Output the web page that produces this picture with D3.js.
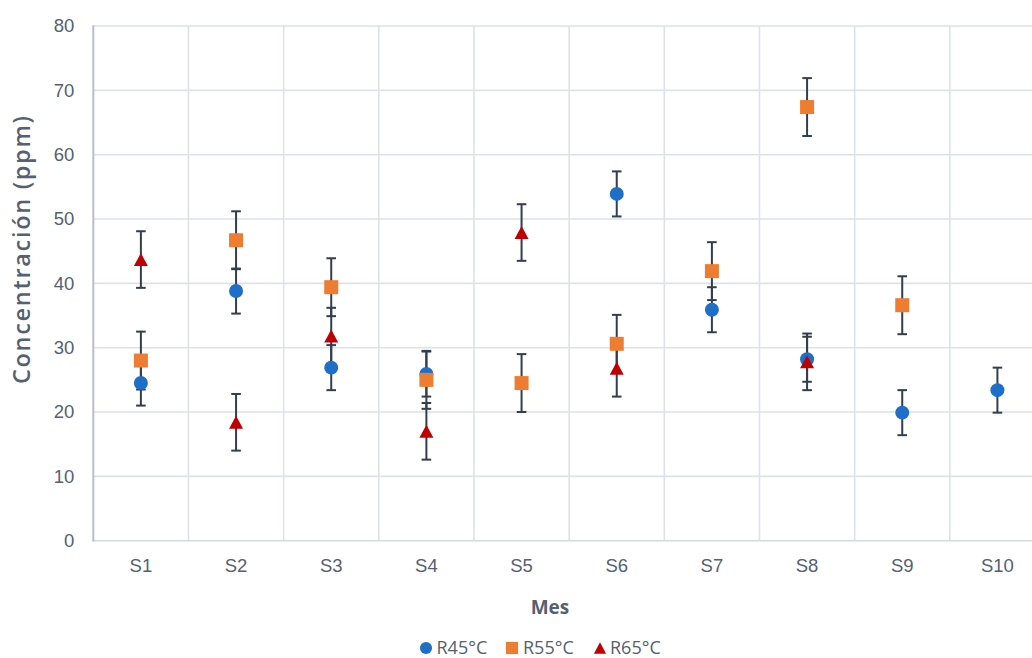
<!DOCTYPE html>
<html>
<head>
<meta charset="utf-8">
<script src="https://cdn.jsdelivr.net/npm/d3@7"></script>
<style>
  html, body { margin: 0; padding: 0; background: #ffffff; }
  svg { display: block; font-family: "Open Sans", "Noto Sans", sans-serif; }
</style>
</head>
<body>
<svg id="chart" width="1032" height="658"></svg>
<script>
// Sample labels (x axis)
const categories = ["S1", "S2", "S3", "S4", "S5", "S6", "S7", "S8", "S9", "S10"];

// Concentration means (ppm); null where no measurement exists
const r45 = [24.5, 38.8, 26.9, 25.9, null, 53.9, 35.9, 28.2, 19.9, 23.4];
const r55 = [28.0, 46.7, 39.4, 25.0, 24.5, 30.6, 41.9, 67.4, 36.6, null];
const r65 = [43.7, 18.4, 31.8, 17.0, 47.9, 26.8, null, 27.8, null, null];

// Error amounts (± ppm) for each point
const r45Err = [3.5, 3.5, 3.5, 3.5, 3.5, 3.5, 3.5, 3.5, 3.5, 3.5];
const r55Err = [4.5, 4.5, 4.5, 4.5, 4.5, 4.5, 4.5, 4.5, 4.5, 4.5];
const r65Err = [4.4, 4.4, 4.4, 4.4, 4.4, 4.4, 4.4, 4.4, 4.4, 4.4];

const seriesNames = ["R45°C", "R55°C", "R65°C"];
const yTicks = [0, 10, 20, 30, 40, 50, 60, 70, 80];

const series = [
  { name: seriesNames[0], values: r45, err: r45Err, shape: "circle",   color: "#1f6ec7" },
  { name: seriesNames[1], values: r55, err: r55Err, shape: "square",   color: "#ed7d31" },
  { name: seriesNames[2], values: r65, err: r65Err, shape: "triangle", color: "#c00000" }
];

const svg = d3.select("#chart");
const plot = { left: 93.3, top: 26, right: 1045, bottom: 540.7 };

const x = d3.scaleBand().domain(categories).range([plot.left, plot.right]).padding(0);
const y = d3.scaleLinear().domain([0, 80]).range([plot.bottom, plot.top]);

const textColor = "#556072";
const gridColor = "#dde2ea";

// Horizontal gridlines
svg.append("g")
  .selectAll("line")
  .data(yTicks.filter(t => t > 0))
  .join("line")
  .attr("x1", plot.left).attr("x2", plot.right)
  .attr("y1", d => y(d)).attr("y2", d => y(d))
  .attr("stroke", gridColor).attr("stroke-width", 1.6);

// Vertical gridlines at category boundaries
svg.append("g")
  .selectAll("line")
  .data(categories.slice(1))
  .join("line")
  .attr("x1", d => x(d)).attr("x2", d => x(d))
  .attr("y1", plot.top).attr("y2", plot.bottom)
  .attr("stroke", gridColor).attr("stroke-width", 1.6);

// Bottom axis line
svg.append("line")
  .attr("x1", plot.left).attr("x2", plot.right)
  .attr("y1", plot.bottom).attr("y2", plot.bottom)
  .attr("stroke", "#d3d9e3").attr("stroke-width", 1.6);

// Left axis line
svg.append("line")
  .attr("x1", plot.left).attr("x2", plot.left)
  .attr("y1", plot.top - 0.8).attr("y2", plot.bottom + 0.8)
  .attr("stroke", "#b5bfce").attr("stroke-width", 2);

// Y axis tick labels
const yAxis = d3.axisLeft(y).tickValues(yTicks).tickSize(0).tickPadding(19);
const yg = svg.append("g").attr("transform", `translate(${plot.left},0)`).call(yAxis);
yg.select(".domain").remove();
yg.selectAll("text")
  .attr("fill", textColor)
  .style("font-size", "18.5px");

// X axis tick labels
const xAxis = d3.axisBottom(x).tickSize(0).tickPadding(18);
const xg = svg.append("g").attr("transform", `translate(0,${plot.bottom})`).call(xAxis);
xg.select(".domain").remove();
xg.selectAll("text")
  .attr("fill", textColor)
  .style("font-size", "18.5px");

// Axis titles
svg.append("text")
  .attr("transform", "translate(21,250) rotate(-90)")
  .attr("text-anchor", "middle")
  .attr("dominant-baseline", "central")
  .attr("fill", textColor)
  .style("font-size", "23.5px")
  .style("font-weight", 600)
  .attr("textLength", 268)
  .attr("lengthAdjust", "spacing")
  .text("Concentración (ppm)");

svg.append("text")
  .attr("x", 550)
  .attr("y", 607)
  .attr("text-anchor", "middle")
  .attr("dominant-baseline", "central")
  .attr("fill", textColor)
  .style("font-size", "19px")
  .style("font-weight", 700)
  .text("Mes");

// Marker shape generator
function drawMarker(sel, shape, color, k) {
  if (shape === "circle") {
    sel.append("circle").attr("r", 7 * k).attr("fill", color);
  } else if (shape === "square") {
    sel.append("rect").attr("x", -7 * k).attr("y", -7 * k)
      .attr("width", 14 * k).attr("height", 14 * k).attr("fill", color);
  } else {
    sel.append("path")
      .attr("d", `M0,${-6.5 * k} L${7 * k},${6.5 * k} L${-7 * k},${6.5 * k} Z`)
      .attr("fill", color);
  }
}

const cx = d => x(d) + x.bandwidth() / 2;
const capHalf = 4.8;
const errColor = "#323d4e";

// Error bars (drawn beneath all markers)
const errG = svg.append("g");
series.forEach(s => {
  s.values.forEach((v, i) => {
    if (v == null) return;
    const px = cx(categories[i]);
    const hi = y(v + s.err[i]), lo = y(v - s.err[i]);
    errG.append("line").attr("x1", px).attr("x2", px).attr("y1", hi).attr("y2", lo)
      .attr("stroke", errColor).attr("stroke-width", 2);
    [hi, lo].forEach(yy => {
      errG.append("line").attr("x1", px - capHalf).attr("x2", px + capHalf)
        .attr("y1", yy).attr("y2", yy)
        .attr("stroke", errColor).attr("stroke-width", 2);
    });
  });
});

// Markers
series.forEach(s => {
  const g = svg.append("g");
  s.values.forEach((v, i) => {
    if (v == null) return;
    const m = g.append("g").attr("transform", `translate(${cx(categories[i])},${y(v)})`);
    drawMarker(m, s.shape, s.color, 1);
  });
});

// Legend
const legendY = 647;
const legendPos = [
  { mx: 426, tx: 436.5 },
  { mx: 512, tx: 523 },
  { mx: 600, tx: 610 }
];
series.forEach((s, i) => {
  const lg = svg.append("g");
  const m = lg.append("g").attr("transform", `translate(${legendPos[i].mx},${legendY + 1})`);
  drawMarker(m, s.shape, s.color, 0.87);
  lg.append("text")
    .attr("x", legendPos[i].tx)
    .attr("y", legendY)
    .attr("dominant-baseline", "central")
    .attr("fill", textColor)
    .style("font-size", "18px")
    .text(s.name);
});
</script>
</body>
</html>
